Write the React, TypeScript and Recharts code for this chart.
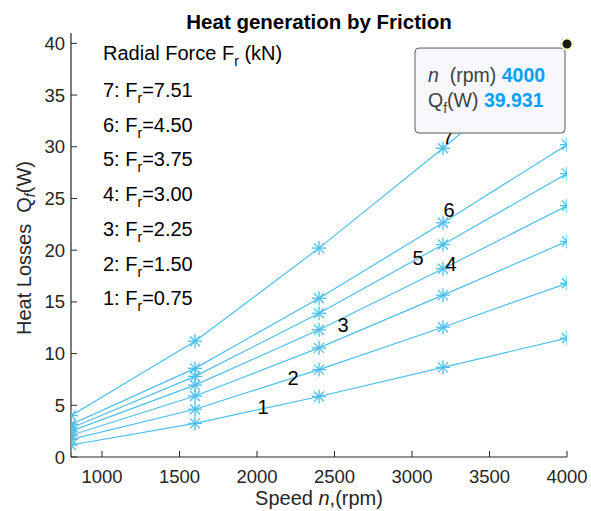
import { LineChart, Line, XAxis, YAxis, ReferenceDot, Customized } from 'recharts';

const speeds = [800, 1600, 2400, 3200, 4000];
const q1 = [1.16, 3.25, 5.85, 8.67, 11.5];
const q2 = [1.7, 4.62, 8.45, 12.55, 16.8];
const q3 = [2.1, 5.9, 10.55, 15.65, 20.85];
const q4 = [2.5, 6.95, 12.3, 18.2, 24.3];
const q5 = [2.8, 7.8, 13.9, 20.55, 27.4];
const q6 = [3.15, 8.57, 15.35, 22.65, 30.2];
const q7 = [4.0, 11.2, 20.2, 29.85, 39.931];
const forces = ['0.75', '1.50', '2.25', '3.00', '3.75', '4.50', '7.51'];
const xTicks = [1000, 1500, 2000, 2500, 3000, 3500, 4000];
const yTicks = [0, 5, 10, 15, 20, 25, 30, 35, 40];
// where the curve numbers sit (data units)
const curveLabelX = [2039, 2232, 2555, 3252, 3039, 3239, 3232];
const curveLabelY = [4.8, 7.6, 12.75, 18.7, 19.2, 23.86, 30.9];

const series = [q1, q2, q3, q4, q5, q6, q7];
const data = speeds.map((n, i) => {
  const row: any = { n };
  series.forEach((s, k) => (row['q' + (k + 1)] = s[i]));
  return row;
});

const BLUE = '#4DBEEE';
const AXIS = '#262626';
const FONT = '"Liberation Sans", Arial, sans-serif';
const NB = '\u00a0';

const Star = (p: any) => {
  const { cx, cy } = p;
  if (cx == null || cy == null) return null;
  const r = 7;
  const d = 5;
  return (
    <g stroke={BLUE} strokeWidth={1.3}>
      <line x1={cx - r} y1={cy} x2={cx + r} y2={cy} />
      <line x1={cx} y1={cy - r} x2={cx} y2={cy + r} />
      <line x1={cx - d} y1={cy - d} x2={cx + d} y2={cy + d} />
      <line x1={cx - d} y1={cy + d} x2={cx + d} y2={cy - d} />
    </g>
  );
};

const BottomTick = (p: any) => (
  <g>
    <line x1={p.x} y1={p.y} x2={p.x} y2={p.y - 6} stroke={AXIS} strokeWidth={1} />
    <text x={p.x} y={p.y + 26} textAnchor="middle" fontSize={18.5} fill={AXIS} fontFamily={FONT}>
      {p.payload.value}
    </text>
  </g>
);
const TopTick = (p: any) => (
  <line x1={p.x} y1={p.y} x2={p.x} y2={p.y + 6} stroke={AXIS} strokeWidth={1} />
);
const LeftTick = (p: any) => (
  <g>
    <line x1={p.x} y1={p.y} x2={p.x + 6} y2={p.y} stroke={AXIS} strokeWidth={1} />
    <text x={p.x - 6} y={p.y + 6.5} textAnchor="end" fontSize={18.5} fill={AXIS} fontFamily={FONT}>
      {p.payload.value}
    </text>
  </g>
);
const RightTick = (p: any) => (
  <line x1={p.x} y1={p.y} x2={p.x - 6} y2={p.y} stroke={AXIS} strokeWidth={1} />
);

const CurveNumber = (p: any) => {
  if (p.cx == null) return null;
  return (
    <text x={p.cx} y={p.cy + 7} textAnchor="middle" fontSize={20} fill="#000" fontFamily={FONT}>
      {p.label}
    </text>
  );
};

const DataTip = (p: any) => {
  const { cx, cy } = p;
  if (cx == null) return null;
  const bx = cx - 152;
  const by = cy + 4;
  return (
    <g fontFamily={FONT}>
      <rect x={bx} y={by} width={150} height={85} rx={4} fill="#F8F8FC" stroke="#5a5a5a" strokeWidth={1} />
      <text x={bx + 13} y={by + 34} fontSize={19.5} fill="#404040">
        <tspan fontStyle="italic">n</tspan>
        <tspan>{NB + NB + '(rpm) '}</tspan>
        <tspan fill="#0AA0F6" fontWeight="bold">{speeds[4]}</tspan>
      </text>
      <text x={bx + 13} y={by + 59} fontSize={19.5} fill="#404040">
        <tspan>Q</tspan>
        <tspan fontSize={14} dy={6}>f</tspan>
        <tspan dy={-6}>{'(W) '}</tspan>
        <tspan fill="#0AA0F6" fontWeight="bold">{q7[4]}</tspan>
      </text>
      <circle cx={cx} cy={cy} r={5.5} fill="#1a1a1a" stroke="#FFFFCC" strokeWidth={2} />
    </g>
  );
};

const Annotations = () => (
  <g fontFamily={FONT} fill="#000">
    <text x={319} y={29} textAnchor="middle" fontSize={20.5} fontWeight="bold">
      Heat generation by Friction
    </text>
    <text x={103} y={60} fontSize={20}>
      <tspan>Radial Force F</tspan>
      <tspan fontSize={14} dy={6}>r</tspan>
      <tspan dy={-6}>{NB + '(kN)'}</tspan>
    </text>
    {forces
      .map((f, i) => ({ f, i }))
      .reverse()
      .map(({ f, i }, k) => (
        <text key={f} x={103} y={97 + k * 34.7} fontSize={20}>
          <tspan>{i + 1 + ': F'}</tspan>
          <tspan fontSize={14} dy={6}>r</tspan>
          <tspan dy={-6}>{'=' + f}</tspan>
        </text>
      ))}
    <text x={319} y={505} textAnchor="middle" fontSize={20} fill={AXIS}>
      <tspan>{'Speed' + NB}</tspan>
      <tspan fontStyle="italic">n</tspan>
      <tspan>,(rpm)</tspan>
    </text>
    <text x={31} y={248} textAnchor="middle" fontSize={20} fill={AXIS} transform="rotate(-90 31 248)">
      <tspan>{'Heat Losses' + NB + NB + 'Q'}</tspan>
      <tspan fontSize={14} dy={4} fontStyle="italic">f</tspan>
      <tspan dy={-4}>(W)</tspan>
    </text>
  </g>
);

export default function App() {
  return (
    <div style={{ position: 'absolute', left: 0, top: 0, width: 591, height: 511, background: '#fff' }}>
      <LineChart width={591} height={511} data={data} margin={{ top: 33, right: 24, bottom: 0, left: 0 }}>
        <XAxis
          dataKey="n"
          type="number"
          domain={[800, 4000]}
          ticks={xTicks}
          height={54}
          tickSize={0}
          tickMargin={0}
          tick={<BottomTick />}
          axisLine={{ stroke: AXIS, strokeWidth: 1.2 }}
          tickLine={false}
          allowDataOverflow
        />
        <XAxis
          xAxisId="top"
          dataKey="n"
          type="number"
          orientation="top"
          domain={[800, 4000]}
          ticks={xTicks}
          height={0}
          tickSize={0}
          tickMargin={0}
          tick={<TopTick />}
          axisLine={{ stroke: AXIS, strokeWidth: 1.2 }}
          tickLine={false}
          allowDataOverflow
        />
        <YAxis
          type="number"
          domain={[0, 41]}
          ticks={yTicks}
          width={71}
          tickSize={0}
          tickMargin={0}
          tick={<LeftTick />}
          axisLine={{ stroke: AXIS, strokeWidth: 1.2 }}
          tickLine={false}
          allowDataOverflow
        />
        <YAxis
          yAxisId="right"
          type="number"
          orientation="right"
          domain={[0, 41]}
          ticks={yTicks}
          width={0}
          tickSize={0}
          tickMargin={0}
          tick={<RightTick />}
          axisLine={{ stroke: AXIS, strokeWidth: 1.2 }}
          tickLine={false}
          allowDataOverflow
        />
        {series.map((_, k) => (
          <Line
            key={k}
            dataKey={'q' + (k + 1)}
            type="linear"
            stroke={BLUE}
            strokeWidth={1.2}
            dot={(p: any) => <Star key={'s' + k + '-' + p.index} {...p} />}
            activeDot={false}
            isAnimationActive={false}
          />
        ))}
        {curveLabelX.map((x, k) => (
          <ReferenceDot
            key={'l' + k}
            x={x}
            y={curveLabelY[k]}
            shape={(p: any) => <CurveNumber {...p} label={String(k + 1)} />}
          />
        ))}
        <ReferenceDot x={speeds[4]} y={q7[4]} shape={<DataTip />} />
        <Customized component={<Annotations />} />
      </LineChart>
    </div>
  );
}
